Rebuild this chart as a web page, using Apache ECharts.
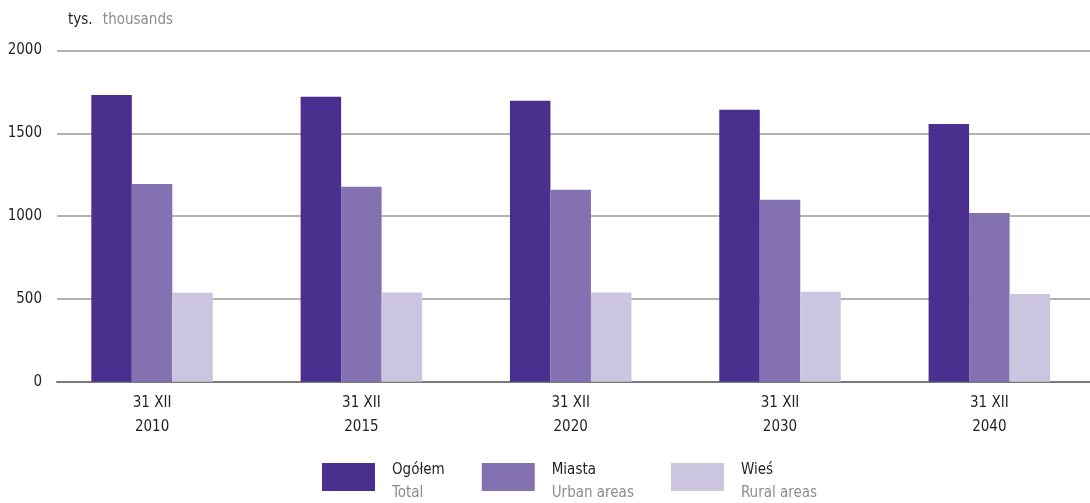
<!DOCTYPE html>
<html>
<head>
<meta charset="utf-8">
<script src="https://cdn.jsdelivr.net/npm/echarts@6/dist/echarts.min.js"></script>
<style>
  html, body { margin: 0; padding: 0; background: #fff; }
  #chart { width: 1090px; height: 503px; }
</style>
</head>
<body>
<div id="chart"></div>
<script>
// data (thousands)
const categories = ['31 XII\n2010', '31 XII\n2015', '31 XII\n2020', '31 XII\n2030', '31 XII\n2040']
const total = [1731, 1720, 1697, 1642, 1556]
const urban = [1194, 1177, 1159, 1099, 1019]
const rural = [537, 538, 538, 543, 530]
const seriesNames = ['Ogółem', 'Miasta', 'Wieś']
const seriesNamesEn = ['Total', 'Urban areas', 'Rural areas']
const colors = ['#4a2f8f', '#8471b1', '#cbc5e0']

const font = "'DejaVu Sans Condensed', sans-serif"
const gridTop = 50.5
const gridBottom = 121.3

const chart = echarts.init(document.getElementById('chart'))

chart.setOption({
  animation: false,
  textStyle: { fontFamily: font },
  color: colors,
  title: {
    left: 63,
    top: 6,
    text: '{a|tys.}  {b|thousands}',
    textStyle: {
      fontWeight: 'normal',
      rich: {
        a: { fontFamily: font, fontSize: 15, color: '#231f20' },
        b: { fontFamily: font, fontSize: 15, color: '#8c8c8c' }
      }
    }
  },
  legend: {
    left: 317,
    top: 458,
    itemWidth: 53,
    itemHeight: 28,
    itemGap: 37,
    icon: 'rect',
    data: seriesNames,
    formatter: name => '{a|' + name + '}\n{b|' + seriesNamesEn[seriesNames.indexOf(name)] + '}',
    textStyle: {
      padding: [10, 0, 0, 12],
      rich: {
        a: { fontFamily: font, fontSize: 15, color: '#231f20', lineHeight: 23 },
        b: { fontFamily: font, fontSize: 15, color: '#8c8c8c', lineHeight: 23 }
      }
    }
  },
  grid: [
    { left: 47.4, width: 1046.6, top: gridTop, bottom: gridBottom, outerBoundsMode: 'none' },
    { left: 57, right: 0, top: gridTop, bottom: gridBottom, outerBoundsMode: 'none' }
  ],
  xAxis: [
    {
      type: 'category',
      gridIndex: 0,
      data: categories,
      axisLine: { show: false },
      axisTick: { show: false },
      axisLabel: {
        fontFamily: font,
        fontSize: 15,
        color: '#231f20',
        lineHeight: 24,
        margin: 9
      }
    },
    {
      type: 'category',
      gridIndex: 1,
      data: categories,
      axisLine: { show: true, lineStyle: { color: '#7a7a7a', width: 2 } },
      axisTick: { show: false },
      axisLabel: { show: false }
    }
  ],
  yAxis: [
    {
      type: 'value',
      gridIndex: 0,
      min: 0,
      max: 2000,
      interval: 500,
      show: false
    },
    {
      type: 'value',
      gridIndex: 1,
      min: 0,
      max: 2000,
      interval: 500,
      axisLine: { show: false },
      axisTick: { show: false },
      axisLabel: {
        fontFamily: font,
        fontSize: 15,
        color: '#231f20',
        margin: 15,
        formatter: v => String(v)
      },
      splitLine: { lineStyle: { color: '#9a9a9a', width: 1.5 } }
    }
  ],
  series: [
    { name: seriesNames[0], type: 'bar', data: total, barWidth: 40.5, barGap: '0%', xAxisIndex: 0, yAxisIndex: 0, z: 3 },
    { name: seriesNames[1], type: 'bar', data: urban, barWidth: 40.5, barGap: '0%', xAxisIndex: 0, yAxisIndex: 0, z: 3 },
    { name: seriesNames[2], type: 'bar', data: rural, barWidth: 40.5, barGap: '0%', xAxisIndex: 0, yAxisIndex: 0, z: 3 }
  ]
})
</script>
</body>
</html>
